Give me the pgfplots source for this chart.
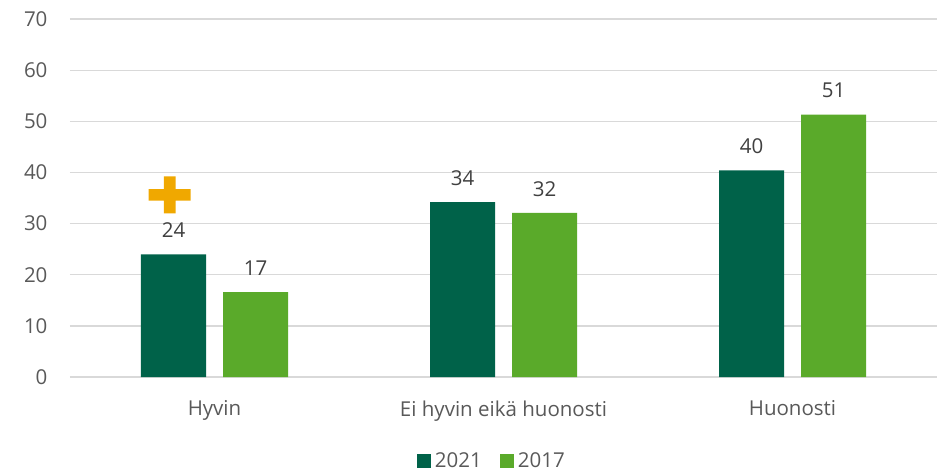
\documentclass[border=0pt]{standalone}
\usepackage{pgfplots}
\pgfplotsset{compat=1.18}
\usepackage{fontspec}
\setmainfont{Open Sans}
\definecolor{dg}{RGB}{0,98,73}
\definecolor{lg}{RGB}{90,170,42}
\definecolor{og}{RGB}{240,168,0}
\definecolor{gridc}{RGB}{217,217,217}
\definecolor{tickc}{RGB}{89,89,89}
\definecolor{labc}{RGB}{64,64,64}
\pgfdeclareplotmark{bigplus}{%
  \pgfpathrectangle{\pgfpoint{-21pt}{-5.8pt}}{\pgfpoint{42pt}{11.6pt}}%
  \pgfpathrectangle{\pgfpoint{-5.8pt}{-18.5pt}}{\pgfpoint{11.6pt}{37pt}}%
  \pgfusepathqfill}
\begin{document}
\begin{tikzpicture}
\begin{axis}[
  scale only axis, width=867pt, height=358pt,
  ymin=0, ymax=70, ytick={0,10,...,70},
  xmin=-0.5, xmax=2.5,
  xtick={0,1,2}, xticklabels={Hyvin,Ei hyvin eikä huonosti,Huonosti},
  ybar=17pt, bar width=65pt,
  axis line style={draw=none},
  ymajorgrids, grid style={gridc, line width=1.3pt},
  major tick length=0pt,
  tick label style={font=\fontsize{20.5}{22}\selectfont, text=tickc},
  /pgf/number format/assume math mode=true,
  yticklabel style={xshift=-19pt},
  xticklabel style={yshift=-20pt},
  nodes near coords={\pgfmathprintnumber[fixed,precision=0]{\pgfplotspointmeta}},
  nodes near coords style={font=\fontsize{20.5}{22}\selectfont, text=labc, yshift=13pt},
  legend style={at={(0.486,-0.235)}, anchor=center, draw=none, legend columns=-1,
    inner sep=0pt, fill=none,
    font=\fontsize{20.5}{22}\selectfont, text=tickc,
    nodes={inner sep=1pt},
    /tikz/every even column/.append style={column sep=17pt},
    /tikz/every odd column/.append style={column sep=3pt}},
  legend image code/.code={\fill[#1] (0pt,-7pt) rectangle (14pt,7pt);},
  clip=false,
]
\addplot[fill=dg, draw=none] coordinates {(0,24.0) (1,34.2) (2,40.4)};
\addplot[fill=lg, draw=none] coordinates {(0,16.6) (1,32.1) (2,51.3)};
\legend{2021,2017}
\addplot[forget plot, only marks, mark=bigplus, color=og, nodes near coords={}] coordinates {(-0.155,35.6)};
\end{axis}
\pgfresetboundingbox
\path[use as bounding box] (-70pt,-92pt) rectangle (868pt,377pt);
\end{tikzpicture}
\end{document}
